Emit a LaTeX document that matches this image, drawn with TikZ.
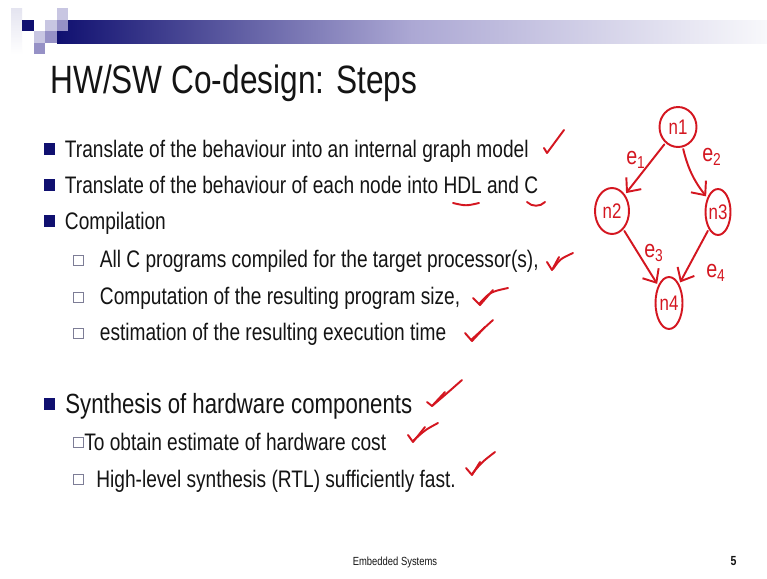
\documentclass[tikz,border=0pt]{standalone}
\usepackage{fontspec}
\setmainfont{Liberation Sans}[FakeStretch=0.8]
\usepackage{tikz}
\usetikzlibrary{shapes.geometric,arrows.meta}
\definecolor{slidenavy}{RGB}{16,16,112}
\definecolor{barmid}{RGB}{172,168,212}
\definecolor{barend}{RGB}{248,248,251}
\definecolor{sqlight}{RGB}{200,198,226}
\definecolor{sqmid}{RGB}{150,145,198}
\definecolor{sqpale}{RGB}{228,228,240}
\definecolor{boxedge}{RGB}{125,125,150}
\definecolor{inkred}{RGB}{212,22,32}
\definecolor{slidetext}{RGB}{20,20,20}

\begin{document}
\begin{tikzpicture}[x=0.02cm, y=-0.02cm,
    txt/.style={anchor=base west, inner sep=0pt, text=slidetext, font=\fontsize{13.6}{16}\selectfont},
    bigtxt/.style={txt, font=\fontsize{15.8}{18}\selectfont},
    bul/.style={fill=slidenavy, minimum size=0.24cm, inner sep=0pt},
    subbul/.style={draw=boxedge, fill=white, line width=0.5pt, minimum size=0.2cm, inner sep=0pt},
    ink/.style={draw=inkred, line width=1.1pt, line cap=round, line join=round},
    gnode/.style={ellipse, ink, inner sep=0pt},
    glabel/.style={text=inkred, inner sep=0pt, font=\fontsize{14}{14}\selectfont},
    ntext/.style={text=inkred, inner sep=0pt, font=\fontsize{12}{12}\selectfont},
    gedge/.style={ink, -{Straight Barb[length=2.2mm, width=3.8mm]}, shorten <=1pt, shorten >=1pt}]
    % Page
    \fill[white] (0,0) rectangle (767,578);
    \useasboundingbox (0,0) rectangle (767,578);
    % Header bar and squares
    \fill[left color=slidenavy, right color=barend, middle color=barmid] (57,20) rectangle (767,43);
    \fill[top color=sqpale, bottom color=white] (11,8) rectangle (22,54);
    \fill[slidenavy] (22,20) rectangle (34,31);
    \fill[sqlight] (45,20) rectangle (57,31);
    \fill[sqlight] (57,8) rectangle (68,20);
    \fill[sqmid] (57,20) rectangle (68,31);
    \fill[sqlight] (34,31) rectangle (45,43);
    \fill[sqmid] (45,31) rectangle (57,43);
    \fill[sqmid] (34,43) rectangle (45,54);
    % Title
    \node[anchor=base west, inner sep=0pt, text=slidetext, font=\fontsize{22.5}{26}\selectfont] (title) at (50,93) {HW/SW Co-design: Steps};
    % Bullets
    \node[bul] (b1) at (49.5,149) {};
    \node[bul] (b2) at (49.5,185) {};
    \node[bul] (b3) at (49.5,220.5) {};
    \node[subbul] (b4) at (78,260) {};
    \node[subbul] (b5) at (78,297) {};
    \node[subbul] (b6) at (78,333) {};
    \node[bul] (b7) at (49.5,404) {};
    \node[subbul] (b8) at (78,442) {};
    \node[subbul] (b9) at (78,479) {};
    % Items
    \node[txt] (l1) at (64.6,157) {Translate of the behaviour into an internal graph model};
    \node[txt] (l2) at (64.6,193) {Translate of the behaviour of each node into HDL and C};
    \node[txt] (l3) at (64.6,229) {Compilation};
    \node[txt] (l4) at (99.6,267) {All C programs compiled for the target processor(s),};
    \node[txt] (l5) at (99.6,304) {Computation of the resulting program size,};
    \node[txt] (l6) at (99.6,340) {estimation of the resulting execution time};
    \node[bigtxt] (l7) at (65,413) {Synthesis of hardware components};
    \node[txt] (l8) at (84,450) {To obtain estimate of hardware cost};
    \node[txt] (l9) at (96,487) {High-level synthesis (RTL) sufficiently fast.};
    % Ticks and underlines
    \draw[ink] (544,148) -- (547,153) -- (564,130);
    \draw[ink] (453,203) .. controls (466,206) .. (479,203);
    \draw[ink] (527,202) .. controls (532,207) and (540,207) .. (545,202);
    \draw[ink] (547,262) -- (552,270) -- (559,257);
    \draw[ink] (553,269) .. controls (560,259) .. (573,253);
    \draw[ink] (473,298) -- (480,305) -- (493,290);
    \draw[ink] (479,304) .. controls (490,292) .. (508,288);
    \draw[ink] (465,333) -- (472,341) -- (485,327);
    \draw[ink] (471,340) .. controls (482,330) .. (493,320);
    \draw[ink] (427,402) -- (432,406) -- (445,392);
    \draw[ink] (432,406) .. controls (445,395) .. (462,380);
    \draw[ink] (408,435) -- (413,442) -- (425,427);
    \draw[ink] (413,441) .. controls (425,430) .. (438,423);
    \draw[ink] (466,468) -- (472,475) -- (480,462);
    \draw[ink] (472,474) .. controls (482,462) .. (495,452);
    % Graph
    \node[gnode, minimum width=0.74cm, minimum height=0.8cm, label={[ntext]center:n1}] (n1) at (678,127) {};
    \node[gnode, minimum width=0.68cm, minimum height=0.92cm, label={[ntext]center:n2}] (n2) at (612,211) {};
    \node[gnode, minimum width=0.5cm, minimum height=0.92cm, label={[ntext]center:n3}] (n3) at (718,212) {};
    \node[gnode, minimum width=0.54cm, minimum height=1.04cm, label={[ntext]center:n4}] (n4) at (669,303) {};
    \draw[gedge] (n1) -- (n2);
    \draw[gedge] (n1) to[bend right=12] (n3);
    \draw[gedge] (n2) -- (n4);
    \draw[gedge] (n3) -- (n4);
    \node[glabel] (e1) at (636,160) {e\textsubscript{1}};
    \node[glabel] (e2) at (712,157) {e\textsubscript{2}};
    \node[glabel] (e3) at (654,253) {e\textsubscript{3}};
    \node[glabel] (e4) at (716,273) {e\textsubscript{4}};
    % Footer
    \node[anchor=base, inner sep=0pt, text=slidetext, font=\fontsize{6.7}{8}\selectfont] (foot) at (395,565) {Embedded Systems};
    \node[anchor=base, inner sep=0pt, text=slidetext, font=\fontsize{7.5}{9}\selectfont\bfseries] (pageno) at (733.5,565) {5};
  \end{tikzpicture}
\end{document}
